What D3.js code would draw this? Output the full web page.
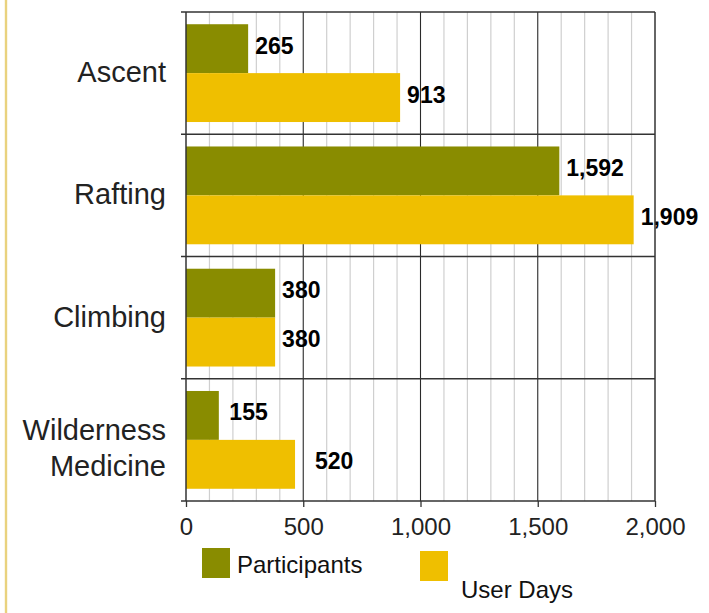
<!DOCTYPE html>
<html>
<head>
<meta charset="utf-8">
<script src="https://cdn.jsdelivr.net/npm/d3@7"></script>
<style>
  html, body { margin: 0; padding: 0; background: #ffffff; }
  svg { display: block; }
</style>
</head>
<body>
<svg id="chart" width="709" height="613"></svg>
<script>
// ---- data ----
const categories = ["Ascent", "Rafting", "Climbing", "Wilderness\nMedicine"];
const seriesNames = ["Participants", "User Days"];
// bar lengths as drawn in the picture
const participantsBars = [265, 1592, 380, 140];
const userDaysBars = [913, 1909, 380, 465];
// printed value labels
const participantsLabels = [265, 1592, 380, 155];
const userDaysLabels = [913, 1909, 380, 520];
const xTicks = [0, 500, 1000, 1500, 2000];
const xMinorTicks = d3.range(0, 2001, 100);
const colors = ["#898c00", "#efbf00"];

// ---- layout ----
const svg = d3.select("#chart");
const plotLeft = 186, plotRight = 655, plotTop = 12, plotBottom = 501;

const x = d3.scaleLinear().domain([0, 2000]).range([plotLeft, plotRight]);
const y = d3.scaleBand().domain(categories).range([plotTop, plotBottom]).padding(0);
const ySub = d3.scaleBand().domain(seriesNames).range([0, y.bandwidth()]).paddingInner(0).paddingOuter(0.25);

// left decorative rule
svg.append("line").attr("x1", 6).attr("x2", 6).attr("y1", 0).attr("y2", 613)
  .attr("stroke", "#e9d27e").attr("stroke-width", 2.4);

// minor gridlines
svg.append("g").selectAll("line").data(xMinorTicks.filter(d => d % 500 !== 0)).join("line")
  .attr("x1", d => x(d)).attr("x2", d => x(d)).attr("y1", plotTop).attr("y2", plotBottom)
  .attr("stroke", "#cfcfcf").attr("stroke-width", 1.2);

// major gridlines
svg.append("g").selectAll("line").data(xTicks.filter(d => d > 0 && d < 2000)).join("line")
  .attr("x1", d => x(d)).attr("x2", d => x(d)).attr("y1", plotTop).attr("y2", plotBottom)
  .attr("stroke", "#2a2a2a").attr("stroke-width", 1.1);

// bars
const rows = categories.map((c, i) => ({
  cat: c,
  vals: [
    { s: seriesNames[0], v: participantsBars[i], lab: participantsLabels[i], col: colors[0] },
    { s: seriesNames[1], v: userDaysBars[i], lab: userDaysLabels[i], col: colors[1] }
  ]
}));

const g = svg.append("g").selectAll("g").data(rows).join("g")
  .attr("transform", d => `translate(0,${y(d.cat)})`);

g.selectAll("rect").data(d => d.vals).join("rect")
  .attr("x", x(0))
  .attr("y", d => ySub(d.s))
  .attr("width", d => x(d.v) - x(0))
  .attr("height", ySub.bandwidth())
  .attr("fill", d => d.col);

const fmt = d3.format(",");
g.selectAll("text.val").data(d => d.vals).join("text")
  .attr("class", "val")
  .attr("x", d => x(d.lab) + 7)
  .attr("y", d => ySub(d.s) + ySub.bandwidth() / 2 - 3)
  .attr("dominant-baseline", "central")
  .attr("font-family", "Liberation Sans, Arial, sans-serif")
  .attr("font-weight", "bold")
  .attr("font-size", 23)
  .attr("fill", "#000")
  .text(d => fmt(d.lab));

// horizontal category separators (with left ticks)
const seps = d3.range(categories.length + 1).map(i => plotTop + i * y.step());
svg.append("g").selectAll("line").data(seps).join("line")
  .attr("x1", plotLeft - 5).attr("x2", plotRight).attr("y1", d => d).attr("y2", d => d)
  .attr("stroke", "#333").attr("stroke-width", 1.3);

// left axis + right border
svg.append("line").attr("x1", plotLeft).attr("x2", plotLeft).attr("y1", plotTop).attr("y2", plotBottom)
  .attr("stroke", "#333").attr("stroke-width", 1.5);
svg.append("line").attr("x1", plotRight).attr("x2", plotRight).attr("y1", plotTop).attr("y2", plotBottom)
  .attr("stroke", "#333").attr("stroke-width", 1.5);

// x axis
const xAxis = d3.axisBottom(x).tickValues(xTicks).tickSize(6).tickPadding(11).tickFormat(fmt);
const ax = svg.append("g").attr("transform", `translate(0,${plotBottom})`).call(xAxis);
ax.select(".domain").remove();
ax.selectAll(".tick line").attr("stroke", "#333").attr("stroke-width", 1.3);
ax.selectAll(".tick text")
  .attr("font-family", "Liberation Sans, Arial, sans-serif")
  .attr("font-size", 24).attr("fill", "#222");

// category labels
const catG = svg.append("g");
categories.forEach(c => {
  const lines = c.split("\n");
  const cy = y(c) + y.bandwidth() / 2;
  const t = catG.append("text")
    .attr("text-anchor", "end")
    .attr("font-family", "Liberation Sans, Arial, sans-serif")
    .attr("font-size", 29).attr("fill", "#222");
  lines.forEach((ln, i) => {
    t.append("tspan").attr("x", plotLeft - 20)
      .attr("y", cy + 9 - (lines.length - 1) * 9 + i * 36)
      .text(ln);
  });
});

// legend
const legend = [
  { name: seriesNames[0], col: colors[0], sx: 202, sy: 548, tx: 237, ty: 573 },
  { name: seriesNames[1], col: colors[1], sx: 420, sy: 551, tx: 461, ty: 598 }
];
const lg = svg.append("g").selectAll("g").data(legend).join("g");
lg.append("rect").attr("x", d => d.sx).attr("y", d => d.sy).attr("width", 28).attr("height", 30)
  .attr("fill", d => d.col);
lg.append("text").attr("x", d => d.tx).attr("y", d => d.ty)
  .attr("font-family", "Liberation Sans, Arial, sans-serif")
  .attr("font-size", 24).attr("fill", "#111")
  .text(d => d.name);
</script>
</body>
</html>
